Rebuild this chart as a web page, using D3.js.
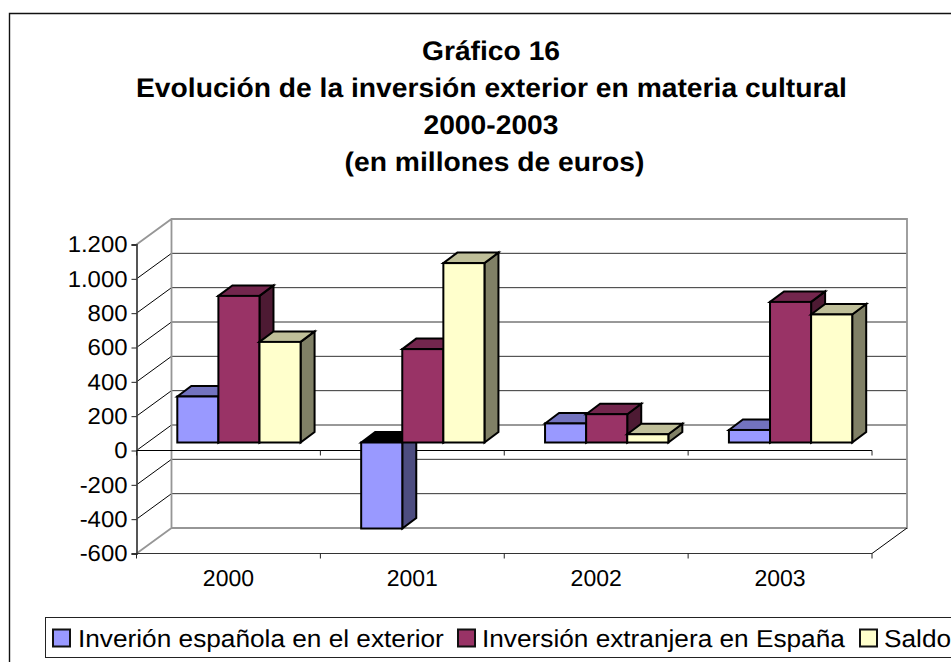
<!DOCTYPE html>
<html><head><meta charset="utf-8">
<script src="https://cdn.jsdelivr.net/npm/d3@7/dist/d3.min.js"></script>
<style>html,body{margin:0;padding:0;background:#fff}svg{display:block}text{font-family:"Liberation Sans",Arial,sans-serif;fill:#000;text-rendering:geometricPrecision}</style>
</head><body><svg id="c" width="951" height="662"></svg>
<script>
const titleLines = ["Gráfico 16","Evolución de la inversión exterior en materia cultural","2000-2003","(en millones de euros)"];
const categories = ["2000","2001","2002","2003"];
const seriesNames = ["Inverión española en el exterior","Inversión extranjera en España","Saldo"];
const inversionEspanola = [268,-501,111,73];
const inversionExtranjera = [854,544,165,819];
const saldo = [586,1045,48,746];
const yTicks = [-600,-400,-200,0,200,400,600,800,1000,1200];
const frontColors = ["#9999ff","#993366","#ffffcc"];
const topColors = ["#7373bf","#73264d","#bfbf99"];
const sideColors = ["#4d4d80","#4d1a33","#808066"];
const negativeTop = "#000000";

const svg = d3.select("#c");
const seriesValues = [inversionEspanola, inversionExtranjera, saldo];

// The reference text is horizontally stretched: fit each label to a measured width
function stretch(sel,k){
  sel.each(function(){
    this.setAttribute("textLength",this.getComputedTextLength()*k);
    this.setAttribute("lengthAdjust","spacingAndGlyphs");
  });
}

// Projection geometry
const x0=136.5, x1=872, yTop=244.5, yBot=553.5;
const depth={dx:35,dy:-25.5};
const barFront={dx:10.5,dy:-8};
const barDepth={dx:14,dy:-10.5};

const y = d3.scaleLinear().domain([-600,1200]).range([yBot,yTop]);
const x = d3.scaleBand().domain(categories).range([x0,x1]);
const xs = d3.scaleBand().domain(d3.range(3)).range([30.3,x.bandwidth()-30.3]).padding(0);

// Outer frame
svg.append("path").attr("d","M951,13.5H9.5V662").attr("fill","none").attr("stroke","#111").attr("stroke-width",1.4);

// Title
svg.append("g").selectAll("text").data(titleLines).join("text")
  .attr("x",(d,i)=>[491,491.5,491,494.5][i]).attr("y",(d,i)=>[60,97,134,171][i]).attr("text-anchor","middle")
  .attr("font-size",27).attr("font-weight","bold").text(d=>d).call(stretch,1.046);

// Back wall and gridlines
const wallX=x0+depth.dx, wallR=x1+depth.dx;
const g=svg.append("g");
g.selectAll("line.grid").data(yTicks.filter(t=>t!==-600&&t!==1200)).join("line")
  .attr("x1",wallX).attr("x2",wallR).attr("y1",d=>y(d)+depth.dy).attr("y2",d=>y(d)+depth.dy)
  .attr("stroke","#333").attr("stroke-width",1);
g.selectAll("line.diag").data(yTicks.filter(t=>t!==-600&&t!==1200)).join("line")
  .attr("x1",x0).attr("x2",wallX).attr("y1",d=>y(d)).attr("y2",d=>y(d)+depth.dy)
  .attr("stroke","#000").attr("stroke-width",1);
g.append("path").attr("d",`M${x0},${yTop}L${wallX},${yTop+depth.dy}H${wallR}V${yBot+depth.dy}H${wallX}V${yTop+depth.dy}M${wallX},${yBot+depth.dy}L${x0},${yBot}`)
  .attr("fill","none").attr("stroke","#969696").attr("stroke-width",1.8);
g.append("line").attr("x1",x1).attr("y1",yBot).attr("x2",wallR).attr("y2",yBot+depth.dy).attr("stroke","#000").attr("stroke-width",1);

// Axes: the category axis crosses at zero, labels stay at the floor
const axisY=svg.append("g").attr("transform",`translate(${x0},0)`)
  .call(d3.axisLeft(y).tickValues(yTicks).tickSize(5).tickPadding(4)
    .tickFormat(d=>d3.format(",")(d).replace(/,/g,".").replace("−","-")));
axisY.select(".domain").attr("stroke","#444").attr("stroke-width",1.8);
axisY.selectAll(".tick line").attr("stroke","#222").attr("stroke-width",1);
axisY.selectAll("text").attr("font-size",23).style("font-family",'"Liberation Sans",Arial,sans-serif').attr("fill","#000").call(stretch,1.04);

const edges=[...categories.map(c=>x(c)),x1];
[y(0),yBot].forEach(py=>{
  svg.append("line").attr("x1",x0).attr("x2",x1).attr("y1",py).attr("y2",py).attr("stroke",py===yBot?"#333":"#000").attr("stroke-width",1.2);
  svg.append("g").selectAll("line").data(edges).join("line")
    .attr("x1",d=>d).attr("x2",d=>d).attr("y1",py).attr("y2",py+5).attr("stroke","#222").attr("stroke-width",1);
});
svg.append("g").selectAll("text").data(categories).join("text")
  .attr("x",d=>x(d)+x.bandwidth()/2).attr("y",586).attr("text-anchor","middle").attr("font-size",23).text(d=>d).call(stretch,1.0);

// 3-D bars
const barsG=svg.append("g");
const base=y(0)+barFront.dy;
categories.forEach((c,ci)=>{
  seriesValues.forEach((vals,si)=>{
    const v=vals[ci];
    const bx=x(c)+barFront.dx+xs(si), bw=xs.bandwidth();
    const vy=y(v)+barFront.dy;
    const top=Math.min(vy,base), bot=Math.max(vy,base);
    const dx=barDepth.dx, dy=barDepth.dy;
    const bar=barsG.append("g").attr("stroke","#000").attr("stroke-width",2).attr("stroke-linejoin","miter");
    bar.append("path").attr("d",`M${bx+bw},${top}l${dx},${dy}V${bot+dy}L${bx+bw},${bot}Z`).attr("fill",sideColors[si]);
    bar.append("path").attr("d",`M${bx},${top}l${dx},${dy}h${bw}l${-dx},${-dy}Z`).attr("fill",v<0?negativeTop:topColors[si]);
    bar.append("rect").attr("x",bx).attr("y",top).attr("width",bw).attr("height",bot-top).attr("fill",frontColors[si]);
  });
});

// Legend
svg.append("rect").attr("x",45.5).attr("y",617.5).attr("width",920).attr("height",40).attr("fill","#fff").attr("stroke","#222").attr("stroke-width",1);
const legX=[53,458,860], legTextX=[78,482,884];
const leg=svg.append("g").selectAll("g").data(seriesNames).join("g");
leg.append("rect").attr("x",(d,i)=>legX[i]).attr("y",629.5).attr("width",17).attr("height",17)
  .attr("fill",(d,i)=>frontColors[i]).attr("stroke","#111").attr("stroke-width",2);
leg.append("text").attr("x",(d,i)=>legTextX[i]).attr("y",646.5).attr("font-size",24.5).text(d=>d).call(stretch,1.07);
</script></body></html>
